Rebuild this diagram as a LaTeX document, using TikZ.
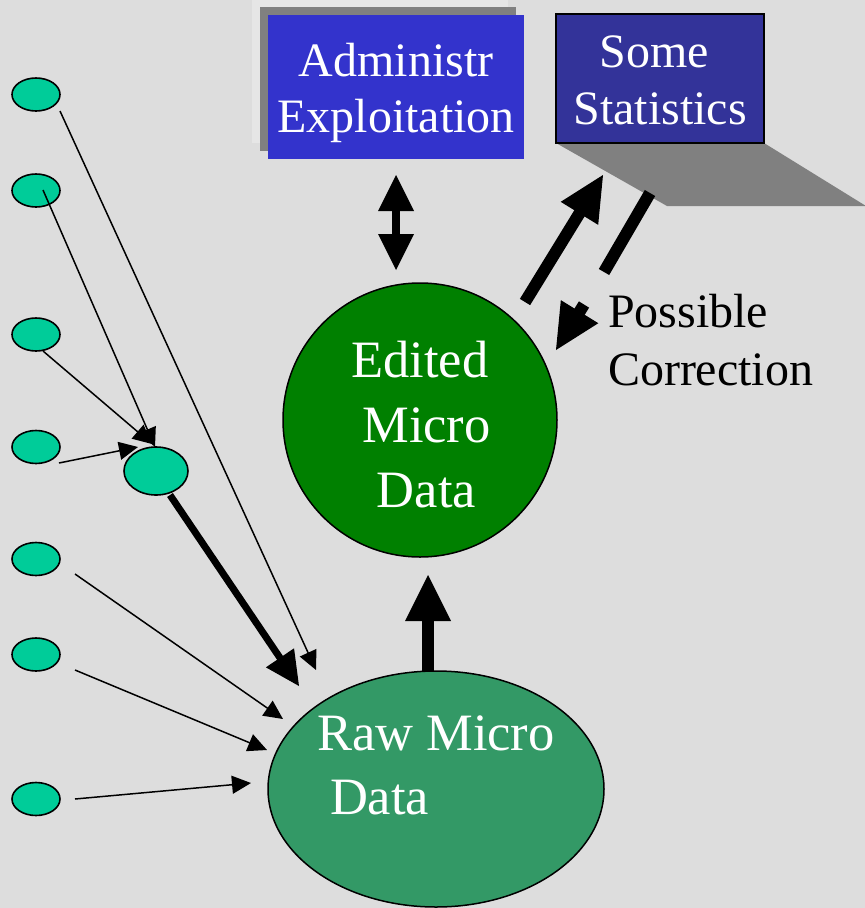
\documentclass[tikz,border=0pt]{standalone}
\usepackage{fontspec}
\setmainfont{Liberation Serif}
\usetikzlibrary{calc,arrows.meta,shapes.geometric}

\definecolor{bgcol}{HTML}{DDDDDD}
\definecolor{panelcol}{HTML}{E6E6E6}
\definecolor{shadowcol}{HTML}{808080}
\definecolor{adminblue}{HTML}{3333CC}
\definecolor{statsblue}{HTML}{333399}
\definecolor{editedgreen}{HTML}{008000}
\definecolor{rawgreen}{HTML}{339966}
\definecolor{sourcegreen}{HTML}{00CC99}

% solid triangular head: tip, a point behind it, head length, half width
\newcommand\solidhead[4]{%
  \fill ($(#1)!#3!(#2)!#4!90:(#1)$) -- (#1) -- ($(#1)!#3!(#2)!#4!-90:(#1)$) -- cycle;}
% block arrow: tail, tip, shaft width, head length, half width
\newcommand\blockarrow[5]{%
  \draw[line width=#3] (#1) -- ($(#2)!#4-3pt!(#1)$);
  \solidhead{#2}{#1}{#4}{#5}}

\begin{document}
\begin{tikzpicture}[x=1pt,y=-1pt,
  txt/.style={inner sep=0pt, outer sep=0pt},
  source/.style={ellipse, draw, line width=1.6pt, fill=sourcegreen,
    minimum width=48pt, minimum height=33pt, inner sep=0pt},
  thinlink/.style={line width=1.5pt, -{Triangle[length=19pt,width=18pt]}},
  bigfont/.style 2 args={font=\fontsize{#1}{#2}\selectfont}]

\useasboundingbox (0,0) rectangle (865,908);
\fill[bgcol] (0,0) rectangle (865,908);

% administrative source box with its panel and shadow
\fill[panelcol] (252,0) rectangle (508,143);
\fill[shadowcol] (260,7) rectangle (516,151);
\node[fill=adminblue, minimum width=256pt, minimum height=144pt, inner sep=0pt] (admin) at (396,87) {};
\node[txt, bigfont={48}{56}, text=white, align=center, anchor=base] (adminlabel) at (396,132) {Administr\\Exploitation};

% statistics box with slanted shadow
\fill[shadowcol] (556,143) -- (764,143) -- (866,206) -- (667,206) -- cycle;
\node[draw=black, line width=2pt, fill=statsblue, minimum width=208pt, minimum height=129pt, inner sep=0pt] (stats) at (660,78.5) {};
\node[txt, bigfont={48}{57}, text=white, align=center, anchor=base] (statslabel) at (660,124) {Some\hspace*{12pt}\\Statistics};

% central data sets
\node[circle, draw, line width=1.5pt, fill=editedgreen, minimum size=274pt, inner sep=0pt] (edited) at (420,420) {};
\node[txt, bigfont={52.5}{65}, text=white, align=center, anchor=base] (editedlabel) at (420,507) {Edited\\\hspace*{13pt}Micro\\\hspace*{13pt}Data};

\node[ellipse, draw, line width=1.5pt, fill=rawgreen, minimum width=336pt, minimum height=236pt, inner sep=0pt] (raw) at (436,789) {};
\node[txt, bigfont={52.5}{64}, text=white, align=left, anchor=base west] (rawlabel) at (317,814) {Raw Micro\\\hspace*{13pt}Data};

\node[txt, bigfont={48}{58}, align=left, anchor=base west] (corrlabel) at (608,385) {Possible\\Correction};

% input sources
\node[source] (s1) at (36,94.5) {};
\node[source] (s2) at (36,190.5) {};
\node[source] (s3) at (36,334.5) {};
\node[source] (s4) at (36,447) {};
\node[source] (s5) at (36,559) {};
\node[source] (s6) at (36,654.5) {};
\node[source] (s7) at (36,799) {};
\node[source, minimum width=64pt, minimum height=48pt] (merged) at (156,471) {};

% connector end points
\coordinate (s1out) at (60,111);
\coordinate (s2out) at (43,190);
\coordinate (s3out) at (43,351);
\coordinate (s4out) at (59,463);
\coordinate (s5out) at (75,574);
\coordinate (s6out) at (75,670);
\coordinate (s7out) at (75,799);
\coordinate (mergedin) at (155,447);
\coordinate (mergedin2) at (152,444);
\coordinate (mergedin3) at (138,447);
\coordinate (rawin1) at (316,670);
\coordinate (rawin5) at (283,719);
\coordinate (rawin6) at (267,750);
\coordinate (rawin7) at (251,783);
\coordinate (mergedout) at (170,495);
\coordinate (rawinbig) at (299,686);
\coordinate (upTail) at (428,671);
\coordinate (upTip) at (428,575);
\coordinate (dblTop) at (396,175);
\coordinate (dblBot) at (396,270);
\coordinate (toStatsTail) at (525,302);
\coordinate (toStatsTip) at (603,175);
\coordinate (backTop) at (650,193);
\coordinate (backBot) at (604,272);
\coordinate (corrTail) at (584,304.5);
\coordinate (corrTip) at (556,350);

% thin source links
\draw[thinlink] (s1out) -- (rawin1);
\draw[thinlink] (s2out) -- (mergedin);
\draw[thinlink] (s3out) -- (mergedin2);
\draw[thinlink] (s4out) -- (mergedin3);
\draw[thinlink] (s5out) -- (rawin5);
\draw[thinlink] (s6out) -- (rawin6);
\draw[thinlink] (s7out) -- (rawin7);

% heavy links
\blockarrow{mergedout}{rawinbig}{7pt}{34pt}{17pt}
\blockarrow{upTail}{upTip}{12pt}{46pt}{23pt}
\draw[line width=8pt] ($(dblTop)!30pt!(dblBot)$) -- ($(dblBot)!30pt!(dblTop)$);
\solidhead{dblTop}{dblBot}{36pt}{18pt}
\solidhead{dblBot}{dblTop}{36pt}{18pt}
\blockarrow{toStatsTail}{toStatsTip}{12pt}{45pt}{22pt}
\draw[line width=12pt] (backBot) -- (backTop);
\blockarrow{corrTail}{corrTip}{12pt}{45pt}{22pt}

\end{tikzpicture}
\end{document}
